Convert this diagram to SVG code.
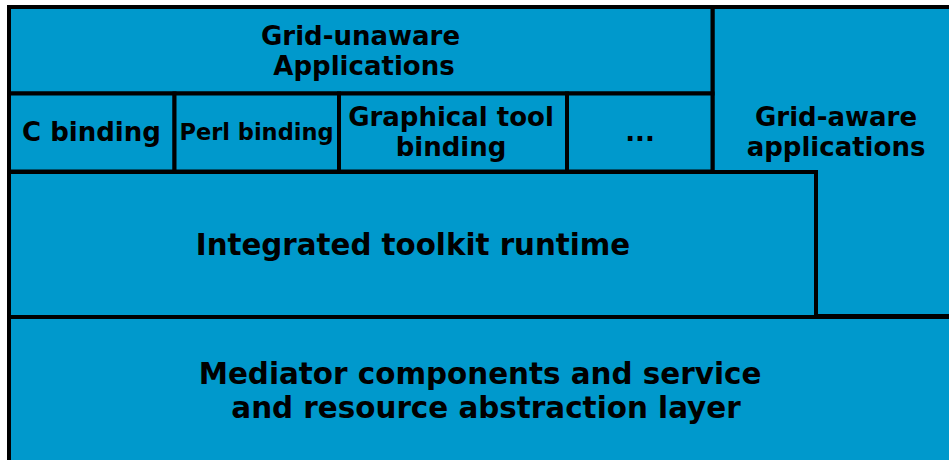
<svg xmlns="http://www.w3.org/2000/svg" width="949" height="460" viewBox="0 0 949 460">
<style>
.box{fill:#0099CC;stroke:#000;stroke-width:4}
text{font-family:"DejaVu Sans",sans-serif;font-weight:bold;fill:#000;text-anchor:middle}
</style>
<rect width="949" height="460" fill="#fff"/>
<g id="grid-aware">
<rect class="box" x="712.5" y="7" width="260" height="309"/>
<text x="836" y="126" font-size="26">Grid-aware</text>
<text x="836" y="156" font-size="26">applications</text>
</g>
<g id="grid-unaware">
<rect class="box" x="9" y="7" width="703.5" height="86.5"/>
<text x="360.5" y="45" font-size="26">Grid-unaware</text>
<text x="364" y="75" font-size="26">Applications</text>
</g>
<g id="c-binding">
<rect class="box" x="9" y="93.5" width="165.5" height="78"/>
<text x="91.5" y="141" font-size="26">C binding</text>
</g>
<g id="perl-binding">
<rect class="box" x="174.5" y="93.5" width="164.5" height="78"/>
<text x="256.5" y="140" font-size="22.5">Perl binding</text>
</g>
<g id="graphical-binding">
<rect class="box" x="339" y="93.5" width="228" height="78"/>
<text x="451" y="126" font-size="26">Graphical tool</text>
<text x="451" y="156" font-size="26">binding</text>
</g>
<g id="more-bindings">
<rect class="box" x="567" y="93.5" width="145.5" height="78"/>
<text x="640" y="141" font-size="26">...</text>
</g>
<g id="runtime">
<rect class="box" x="9" y="172" width="807" height="145"/>
<text x="413" y="255" font-size="29.3">Integrated toolkit runtime</text>
</g>
<g id="mediator">
<rect class="box" x="9" y="317" width="960" height="160"/>
<text x="480" y="384" font-size="29.4">Mediator components and service</text>
<text x="486" y="418" font-size="29.4">and resource abstraction layer</text>
</g>
<g id="connectors"/>
</svg>
